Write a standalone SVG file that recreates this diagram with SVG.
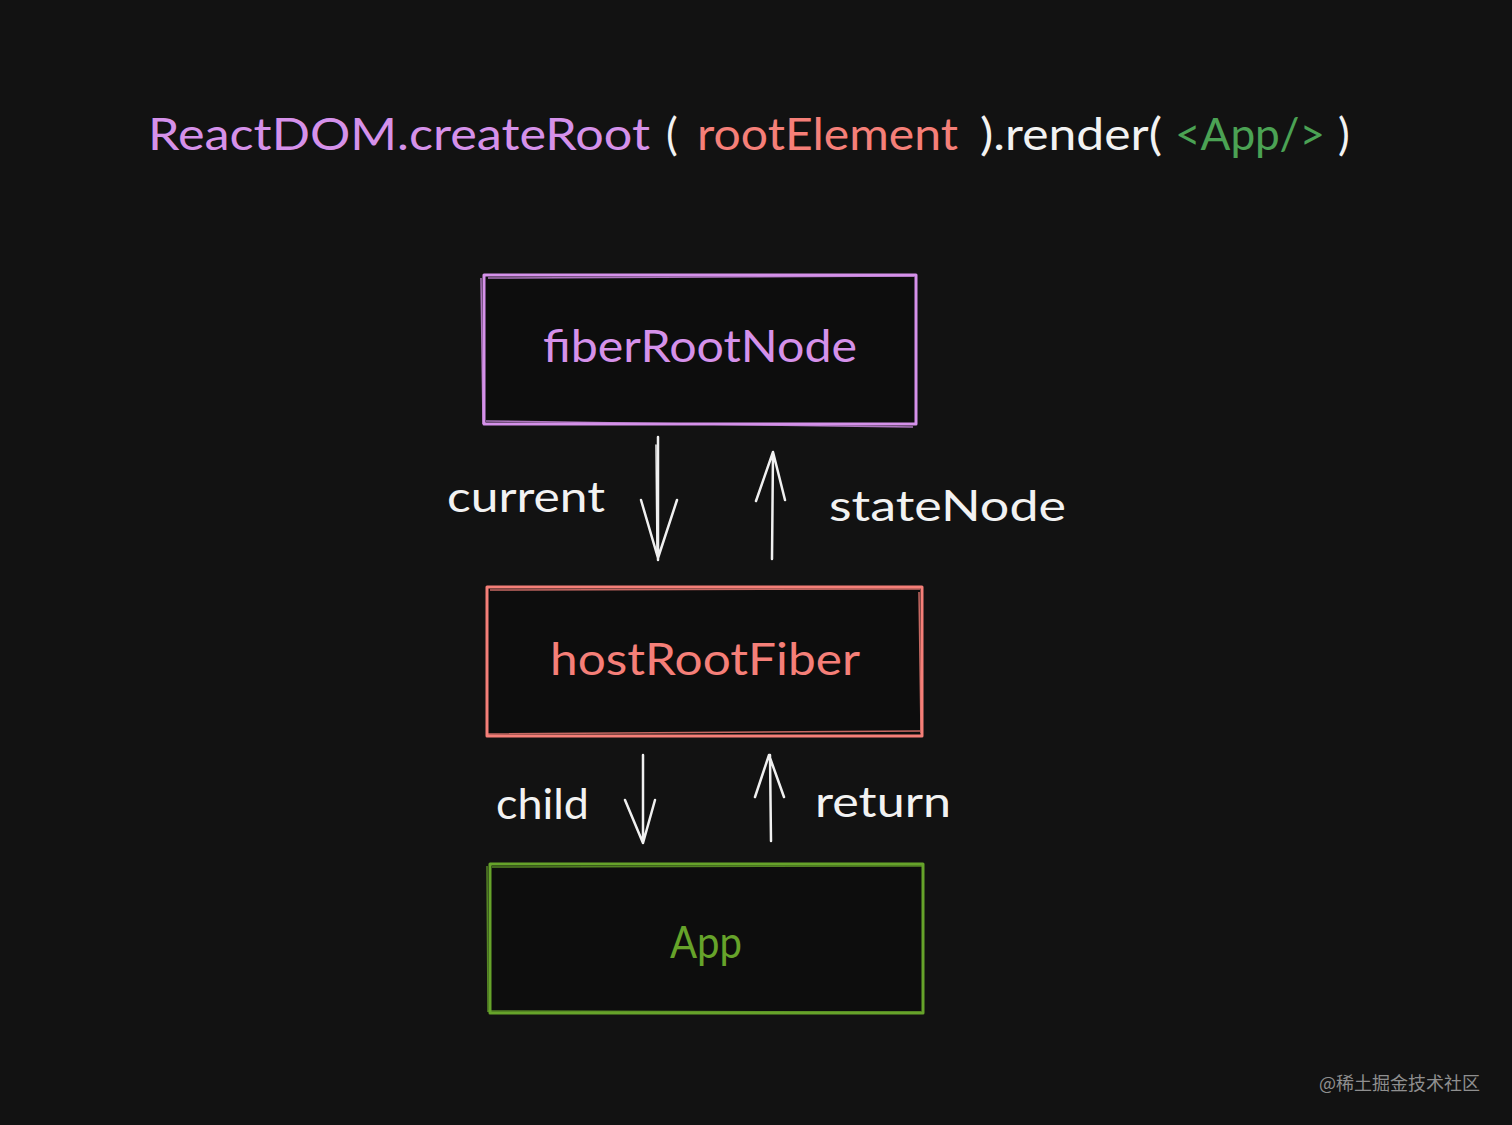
<svg xmlns="http://www.w3.org/2000/svg" width="1512" height="1125" viewBox="0 0 1512 1125">
<style>
.hand{font-family:"Comic Neue","Lato","Noto Sans",sans-serif;}
.t{font-family:"Lato","Noto Sans",sans-serif;font-size:44px;}
.lbl{font-family:"Lato","Noto Sans",sans-serif;font-size:42px;fill:#f2f2f2;}
.box{fill:#0d0d0d;stroke-width:3;stroke-linejoin:round;}
.sk{fill:none;stroke-width:1.5;opacity:0.8;}
.arr{fill:none;stroke:#f0f0f0;stroke-width:2.5;stroke-linecap:round;stroke-linejoin:round;}
.purple{fill:#d591ea;}
.red{fill:#f57f78;}
.green{fill:#4ba254;}
.white{fill:#f2f2f2;}
</style>
<rect width="1512" height="1125" fill="#121212"/>
<g id="title">
<text class="t" y="150"><tspan class="purple" x="148" textLength="502" lengthAdjust="spacingAndGlyphs">ReactDOM.createRoot</tspan><tspan class="white" x="666">(</tspan><tspan class="red" x="697" textLength="261" lengthAdjust="spacingAndGlyphs">rootElement</tspan><tspan class="white" x="980" textLength="182" lengthAdjust="spacingAndGlyphs">).render(</tspan><tspan class="green" x="1175" textLength="150" lengthAdjust="spacingAndGlyphs">&lt;App/&gt;</tspan><tspan class="white" x="1338">)</tspan></text>
</g>
<g id="fiberRootNode">
<rect class="box" x="484" y="275" width="432" height="149" stroke="#d591ea"/>
<path class="sk" stroke="#d591ea" d="M488 278 L914 276 M486 421 L913 427 M481 278 L483 424"/>
<text class="t purple" x="700" y="362" text-anchor="middle" textLength="314" lengthAdjust="spacingAndGlyphs">fiberRootNode</text>
</g>
<g id="hostRootFiber">
<rect class="box" x="487" y="587" width="435" height="149" stroke="#f57f78"/>
<path class="sk" stroke="#f57f78" d="M490 590 L920 589 M488 734 L920 731 M919 592 L921 733"/>
<text class="t red" x="705" y="675" text-anchor="middle" textLength="310" lengthAdjust="spacingAndGlyphs">hostRootFiber</text>
</g>
<g id="App">
<rect class="box" x="490" y="864" width="433" height="149" stroke="#66a32a"/>
<path class="sk" stroke="#66a32a" d="M492 867 L922 866 M488 1011 L921 1012 M487 866 L488 1012"/>
<text class="t" fill="#66a32a" x="706" y="958" text-anchor="middle" textLength="72" lengthAdjust="spacingAndGlyphs">App</text>
</g>
<g id="connectors">
<path class="arr" d="M658 437 L658 560 M641 500 L658 558 L677 500"/>
<path class="arr" d="M656 445 L657 555" style="stroke-width:1.5"/>
<path class="arr" d="M772 559 L773 452 M756 501 L773 452 L785 500"/>
<path class="arr" d="M643 755 L643 843 M625 800 L643 843 L655 800"/>
<path class="arr" d="M771 841 L770 755 M755 797 L769 755 L784 797"/>
</g>
<g id="labels">
<text class="lbl" x="447" y="512" textLength="158" lengthAdjust="spacingAndGlyphs">current</text>
<text class="lbl" x="829" y="521" textLength="237" lengthAdjust="spacingAndGlyphs">stateNode</text>
<text class="lbl" x="496" y="819" textLength="93" lengthAdjust="spacingAndGlyphs">child</text>
<text class="lbl" x="815" y="817" textLength="136" lengthAdjust="spacingAndGlyphs">return</text>
</g>
<text x="1480" y="1090" text-anchor="end" font-family="'Noto Sans CJK SC','Noto Sans',sans-serif" font-size="18" fill="#8f8f8f">@稀土掘金技术社区</text>
</svg>
